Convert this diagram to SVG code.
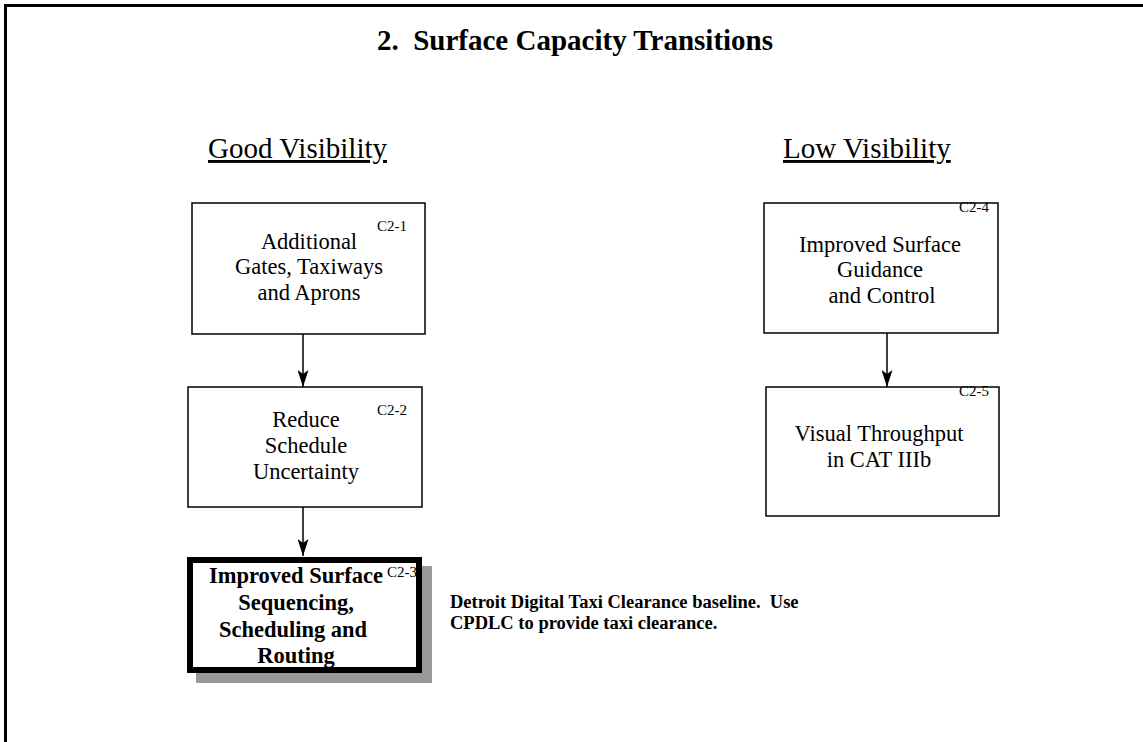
<svg xmlns="http://www.w3.org/2000/svg" width="1143" height="742" viewBox="0 0 1143 742">
  <style>
    .frame { fill: none; stroke: #000; stroke-width: 3; }
    .box { fill: #fff; stroke: #000; stroke-width: 1.5; }
    .heavy { fill: none; stroke: #000; stroke-width: 6; }
    .shadow { fill: #999; }
    .t { font-family: "Liberation Serif", "Times New Roman", serif; fill: #000; white-space: pre; }
    .title { font-size: 29px; font-weight: bold; text-anchor: middle; }
    .head { font-size: 29px; text-decoration: underline; }
    .lbl { font-size: 22.5px; text-anchor: middle; }
    .blbl { font-size: 22.5px; font-weight: bold; text-anchor: middle; }
    .id { font-size: 15px; }
    .note { font-size: 18.5px; font-weight: bold; }
    .wire { stroke: #000; stroke-width: 1.5; fill: none; }
  </style>
  <defs>
    <!-- narrow arrowhead, drawn along +x so orient="auto" points it down the line -->
    <marker id="arrow" viewBox="0 0 17 11" refX="17" refY="5.5" markerWidth="17" markerHeight="11" markerUnits="userSpaceOnUse" orient="auto">
      <path d="M0,0 L17,5.5 L0,11 L4,5.5 Z" fill="#000"/>
    </marker>
  </defs>

  <rect width="1143" height="742" fill="#fff"/>
  <!-- page frame, open at right and bottom -->
  <path class="frame" d="M5.5,742 V5.5 H1143"/>

  <text class="t title" x="575" y="50" xml:space="preserve">2.  Surface Capacity Transitions</text>
  <text class="t head" x="208" y="158">Good Visibility</text>
  <text class="t head" x="783" y="158">Low Visibility</text>

  <g id="connectors">
    <line class="wire" x1="303" y1="334" x2="303" y2="387" marker-end="url(#arrow)"/>
    <line class="wire" x1="303" y1="507" x2="303" y2="556" marker-end="url(#arrow)"/>
    <line class="wire" x1="887" y1="333" x2="887" y2="387" marker-end="url(#arrow)"/>
  </g>

  <g id="c2-1">
    <rect class="box" x="192" y="203" width="233" height="131"/>
    <text class="t id" x="377" y="231">C2-1</text>
    <text class="t lbl" x="309" y="249">Additional</text>
    <text class="t lbl" x="309" y="274">Gates, Taxiways</text>
    <text class="t lbl" x="309" y="300">and Aprons</text>
  </g>

  <g id="c2-2">
    <rect class="box" x="188" y="387" width="234" height="120"/>
    <text class="t id" x="377" y="415">C2-2</text>
    <text class="t lbl" x="306" y="427">Reduce</text>
    <text class="t lbl" x="306" y="453">Schedule</text>
    <text class="t lbl" x="306" y="479">Uncertainty</text>
  </g>

  <g id="c2-3">
    <rect class="shadow" x="196" y="566" width="236" height="117"/>
    <rect x="190" y="560" width="229" height="110" fill="#fff"/>
    <text class="t id" x="387" y="577">C2-3</text>
    <text class="t blbl" x="296" y="583">Improved Surface</text>
    <text class="t blbl" x="296" y="610">Sequencing,</text>
    <text class="t blbl" x="293" y="637">Scheduling and</text>
    <text class="t blbl" x="296" y="663">Routing</text>
    <rect class="heavy" x="190" y="560" width="229" height="110"/>
  </g>

  <g id="c2-3-note">
    <text class="t note" x="450" y="608" xml:space="preserve">Detroit Digital Taxi Clearance baseline.  Use</text>
    <text class="t note" x="450" y="629">CPDLC to provide taxi clearance.</text>
  </g>

  <g id="c2-4">
    <rect class="box" x="764" y="203" width="234" height="130"/>
    <text class="t id" x="959" y="212">C2-4</text>
    <text class="t lbl" x="880" y="252">Improved Surface</text>
    <text class="t lbl" x="880" y="277">Guidance</text>
    <text class="t lbl" x="882" y="303">and Control</text>
  </g>

  <g id="c2-5">
    <rect class="box" x="766" y="387" width="233" height="129"/>
    <text class="t id" x="959" y="396">C2-5</text>
    <text class="t lbl" x="879" y="441">Visual Throughput</text>
    <text class="t lbl" x="879" y="467">in CAT IIIb</text>
  </g>
</svg>
